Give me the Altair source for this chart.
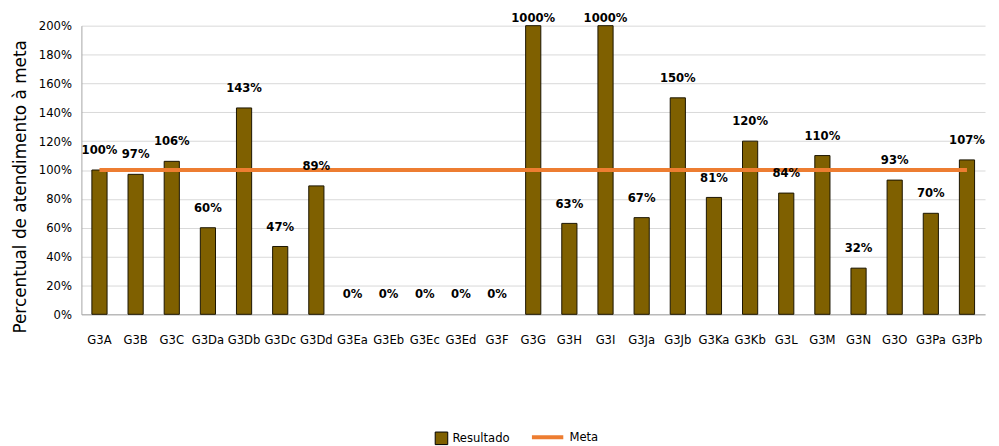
import altair as alt
import pandas as pd

categories = ["G3A", "G3B", "G3C", "G3Da", "G3Db", "G3Dc", "G3Dd", "G3Ea", "G3Eb",
              "G3Ec", "G3Ed", "G3F", "G3G", "G3H", "G3I", "G3Ja", "G3Jb", "G3Ka",
              "G3Kb", "G3L", "G3M", "G3N", "G3O", "G3Pa", "G3Pb"]
resultado = [1.00, 0.97, 1.06, 0.60, 1.43, 0.47, 0.89, 0.0, 0.0,
             0.0, 0.0, 0.0, 10.00, 0.63, 10.00, 0.67, 1.50, 0.81,
             1.20, 0.84, 1.10, 0.32, 0.93, 0.70, 1.07]
meta = [1.0] * len(categories)
y_ticks = [0, 0.2, 0.4, 0.6, 0.8, 1.0, 1.2, 1.4, 1.6, 1.8, 2.0]

df = pd.DataFrame({"cat": categories, "resultado": resultado, "meta": meta,
                   "s_res": ["Resultado"] * len(categories),
                   "s_meta": ["Meta"] * len(categories)})

FONT = "DejaVu Sans Condensed, Lato, sans-serif"

x = alt.X("cat:N", sort=categories, title=None,
          scale=alt.Scale(paddingInner=0.58, paddingOuter=0.29),
          axis=alt.Axis(labelAngle=0, labelFont=FONT, labelFontSize=13,
                        labelColor="#000", labelPadding=19, ticks=False,
                        domainColor="#A6A6A6", grid=False, labelOverlap=False))

yscale = alt.Scale(domain=[0, 2], clamp=True, nice=False)
yaxis = alt.Axis(values=y_ticks, format=".0%", labelFont=FONT,
                 labelFontSize=13, labelColor="#000", labelPadding=10,
                 labelOverlap=False, tickCount=11,
                 ticks=False, domainColor="#A6A6A6", gridColor="#D9D9D9",
                 titleFont="DejaVu Sans", titleFontSize=17,
                 titleFontWeight="normal", titleColor="#000",
                 titlePadding=9, titleY=162)
YTITLE = "Percentual de atendimento à meta"

base = alt.Chart(df)

bars = base.mark_bar(stroke="#1a1400", strokeWidth=1).encode(
    x=x,
    y=alt.Y("resultado:Q", scale=yscale, title=YTITLE, axis=yaxis),
    fill=alt.Fill("s_res:N", scale=alt.Scale(domain=["Resultado"], range=["#7F6000"]),
                  legend=alt.Legend(title=None, orient="none", legendX=356, legendY=409,
                                    symbolType="square", symbolSize=160,
                                    symbolStrokeColor="#000", symbolStrokeWidth=1,
                                    labelFont=FONT, labelFontSize=13, labelColor="#000")),
    strokeOpacity=alt.condition("datum.resultado == 0", alt.value(0), alt.value(1)),
)

line = base.mark_line(strokeWidth=4).encode(
    x=x,
    y=alt.Y("meta:Q", scale=yscale, title=YTITLE, axis=yaxis),
    stroke=alt.Stroke("s_meta:N", scale=alt.Scale(domain=["Meta"], range=["#ED7D31"]),
                      legend=alt.Legend(title=None, orient="none", legendX=452, legendY=397,
                                        symbolType="stroke", symbolSize=1000,
                                        symbolStrokeWidth=4,
                                        labelFont=FONT, labelFontSize=13, labelColor="#000")),
)

labels_norm = base.transform_filter("datum.resultado <= 2").mark_text(
    font=FONT, fontSize=13, fontWeight="bold", dy=-20, baseline="middle", color="#000"
).encode(x=x, y=alt.Y("resultado:Q", scale=yscale, title=YTITLE, axis=yaxis),
         text=alt.Text("resultado:Q", format=".0%"))

labels_clip = base.transform_filter("datum.resultado > 2").mark_text(
    font=FONT, fontSize=13, fontWeight="bold", dy=-8, baseline="middle", color="#000"
).encode(x=x, y=alt.value(0),
         text=alt.Text("resultado:Q", format=".0%"))

chart = alt.layer(bars, line, labels_norm, labels_clip).properties(
    width=911, height=291,
    autosize=alt.AutoSizeParams(type="none"),
    padding={"left": 74, "top": 16, "right": 6, "bottom": 140},
).configure_view(stroke=None).resolve_legend(fill="independent", stroke="independent")

chart.save("out.html", embed_options={"renderer": "svg", "actions": False})
